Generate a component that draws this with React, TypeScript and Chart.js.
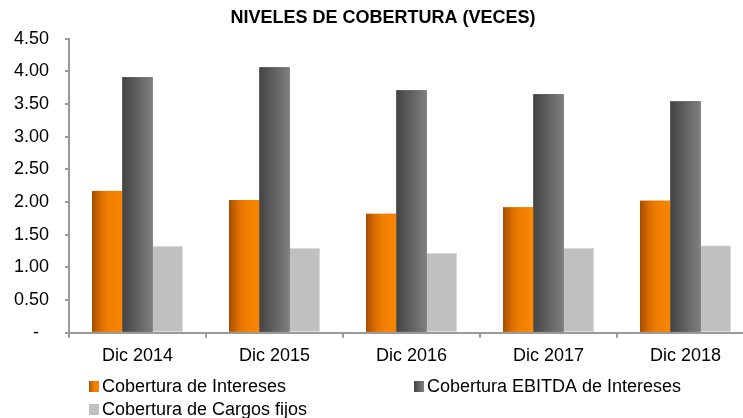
import React, { useEffect, useRef } from 'react';
import { Chart, registerables } from 'chart.js';

Chart.register(...registerables);

const chartTitle = 'NIVELES DE COBERTURA (VECES)';
const categories = ['Dic 2014', 'Dic 2015', 'Dic 2016', 'Dic 2017', 'Dic 2018'];
const seriesLabels = ['Cobertura de Intereses', 'Cobertura EBITDA de Intereses', 'Cobertura de Cargos fijos'];
const coberturaIntereses = [2.17, 2.03, 1.82, 1.92, 2.02];
const coberturaEbitda = [3.91, 4.06, 3.71, 3.65, 3.54];
const coberturaCargos = [1.33, 1.30, 1.22, 1.30, 1.34];
const yMin = 0;
const yMax = 4.5;
const yStep = 0.5;

const FONT = "'Liberation Sans', Arial, sans-serif";
const AXIS = '#9a9a9a';

const gradients: Record<number, [number, string][] | null> = {
  0: [[0, '#a34d00'], [0.3, '#dc6e00'], [0.55, '#f07e00'], [1, '#f98600']],
  1: [[0, '#434343'], [1, '#808080']],
  2: null,
};
const flatColors = ['#f07e00', '#606060', '#c0c0c0'];

function fillFor(ctx: CanvasRenderingContext2D, i: number, left: number, width: number) {
  const stops = gradients[i];
  if (!stops) return flatColors[i];
  const g = ctx.createLinearGradient(left, 0, left + width, 0);
  stops.forEach(([o, c]) => g.addColorStop(o, c));
  return g;
}

const gradientBarsPlugin = {
  id: 'gradientBars',
  afterDatasetsDraw(chart: any) {
    const ctx = chart.ctx as CanvasRenderingContext2D;
    chart.data.datasets.forEach((_: any, i: number) => {
      if (!gradients[i]) return;
      const meta = chart.getDatasetMeta(i);
      meta.data.forEach((el: any) => {
        const { x, y, base, width } = el.getProps(['x', 'y', 'base', 'width'], true);
        const left = x - width / 2;
        ctx.save();
        ctx.fillStyle = fillFor(ctx, i, left, width) as any;
        ctx.fillRect(left, Math.min(y, base), width, Math.abs(base - y));
        ctx.restore();
      });
    });
  },
};

const legendSlots = [
  { x: 89, y: 381 },
  { x: 414, y: 381 },
  { x: 89, y: 404 },
];

const customLegendPlugin = {
  id: 'customLegend',
  afterDraw(chart: any) {
    const ctx = chart.ctx as CanvasRenderingContext2D;
    ctx.save();
    ctx.font = `18px ${FONT}`;
    ctx.textBaseline = 'middle';
    ctx.textAlign = 'left';
    chart.data.datasets.forEach((ds: any, i: number) => {
      const slot = legendSlots[i];
      if (!slot) return;
      const bw = 10;
      const bh = 11;
      ctx.fillStyle = fillFor(ctx, i, slot.x, bw) as any;
      ctx.fillRect(slot.x, slot.y, bw, bh);
      ctx.fillStyle = '#000';
      ctx.fillText(ds.label, slot.x + 13, slot.y + bh / 2 + 0.5);
    });
    ctx.restore();
  },
};

export default function App() {
  const canvasRef = useRef<HTMLCanvasElement | null>(null);

  useEffect(() => {
    if (!canvasRef.current) return;
    Chart.defaults.font.family = FONT;
    const chart = new Chart(canvasRef.current, {
      type: 'bar',
      data: {
        labels: categories,
        datasets: [
          {
            label: seriesLabels[0],
            data: coberturaIntereses,
            backgroundColor: flatColors[0],
            barPercentage: 1,
            categoryPercentage: 0.664,
          },
          {
            label: seriesLabels[1],
            data: coberturaEbitda,
            backgroundColor: flatColors[1],
            barPercentage: 1,
            categoryPercentage: 0.664,
          },
          {
            label: seriesLabels[2],
            data: coberturaCargos,
            backgroundColor: flatColors[2],
            borderColor: '#d9d9d9',
            borderWidth: { top: 1, right: 1, left: 0, bottom: 0 },
            borderSkipped: false,
            barPercentage: 1,
            categoryPercentage: 0.664,
          },
        ],
      },
      options: {
        responsive: false,
        animation: false,
        devicePixelRatio: 1,
        layout: { padding: { left: 12, right: 12, top: 0, bottom: 51.6 } },
        plugins: {
          legend: { display: false },
          tooltip: { enabled: false },
          title: {
            display: true,
            text: chartTitle,
            color: '#000',
            font: { size: 18, weight: 'bold', family: FONT },
            padding: { top: 7, bottom: 10 },
          },
        },
        scales: {
          x: {
            afterFit: (scale: any) => {
              scale.height = 33.6;
            },
            grid: {
              display: true,
              drawOnChartArea: false,
              drawTicks: true,
              tickLength: 5,
              color: AXIS,
              lineWidth: 2,
              offset: true,
            },
            border: { display: true, color: AXIS, width: 2 },
            ticks: { color: '#000', font: { size: 18, family: FONT }, padding: 7, maxRotation: 0 },
          },
          y: {
            min: yMin,
            max: yMax,
            afterFit: (scale: any) => {
              scale.width = 57;
            },
            grid: {
              display: true,
              drawOnChartArea: false,
              drawTicks: true,
              tickLength: 4,
              color: AXIS,
              lineWidth: 2,
            },
            border: { display: true, color: AXIS, width: 2 },
            ticks: {
              stepSize: yStep,
              color: '#000',
              font: { size: 18, family: FONT },
              padding: 16,
              callback: (v: any) => (Number(v) === 0 ? '-  ' : Number(v).toFixed(2)),
            },
          },
        },
      },
      plugins: [gradientBarsPlugin, customLegendPlugin],
    } as any);
    return () => chart.destroy();
  }, []);

  return (
    <div style={{ position: 'absolute', left: 0, top: 0, width: 743, height: 418, overflow: 'hidden', background: '#fff' }}>
      <canvas ref={canvasRef} width={766} height={418} style={{ display: 'block', width: 766, height: 418 }} />
    </div>
  );
}
